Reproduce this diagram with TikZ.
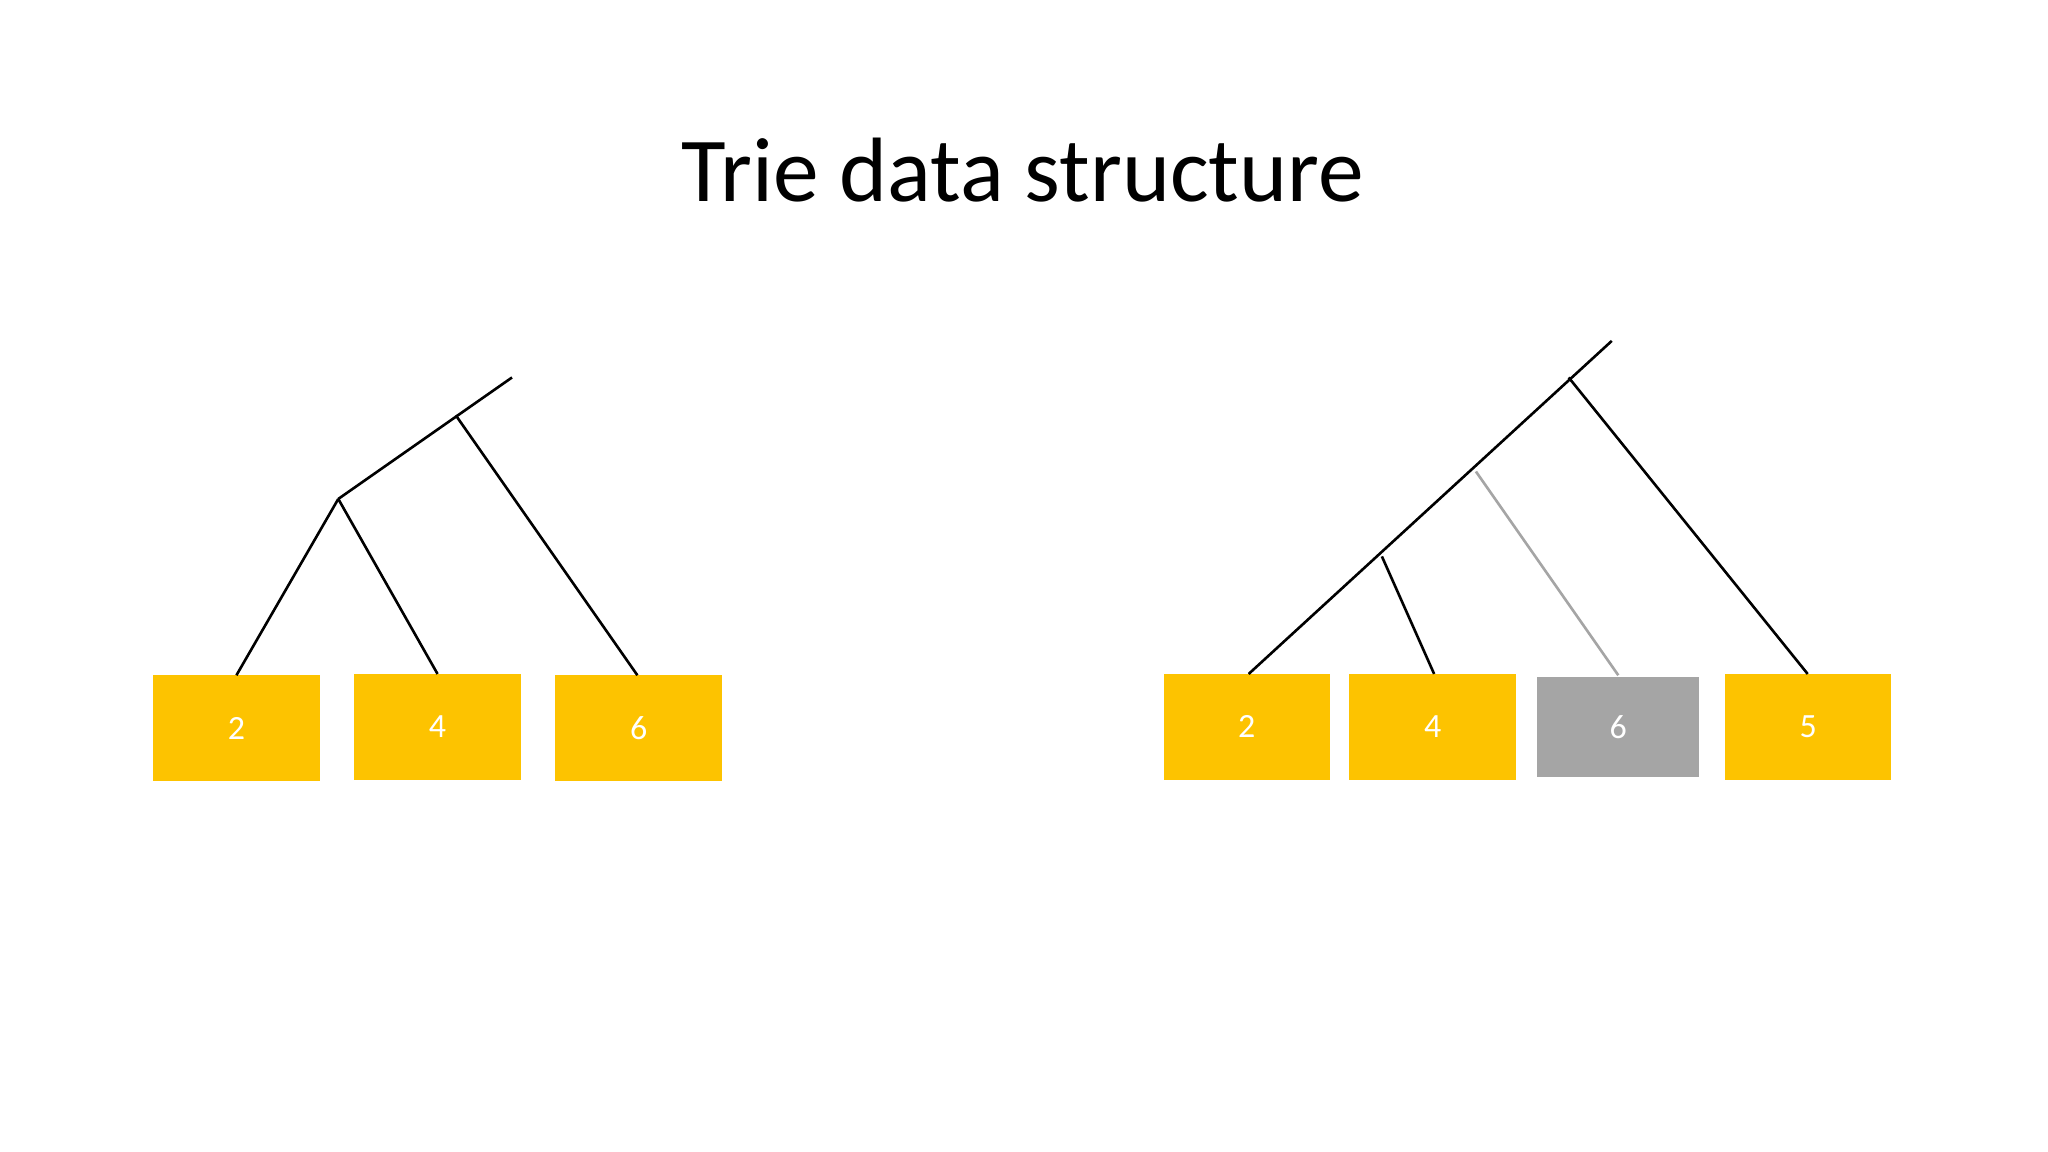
\documentclass[tikz,border=0pt]{standalone}
\usepackage{fontspec}
\setmainfont{Carlito}
\definecolor{gold}{HTML}{FDC300}
\definecolor{greybox}{HTML}{A5A5A5}
\begin{document}
\begin{tikzpicture}[x=0.5pt,y=-0.5pt,
  leaf/.style={fill=gold,draw=none,text=white,font=\fontsize{13}{15}\selectfont,inner sep=0pt},
  greyleaf/.style={leaf,fill=greybox},
  edge/.style={line width=1pt,black},
  greyedge/.style={line width=1pt,greybox}]
\useasboundingbox[fill=white] (0,0) rectangle (1568,882);
\node[font=\fontsize{35}{40}\selectfont] (title) at (783,130) {Trie data structure};
% left boxes
\node[leaf,minimum width=64pt,minimum height=40.5pt] (l2) at (181,557.5) {2};
\node[leaf,minimum width=64pt,minimum height=40.5pt] (l4) at (335,556.5) {4};
\node[leaf,minimum width=64pt,minimum height=40.5pt] (l6) at (489,557.5) {6};
% right boxes
\node[leaf,minimum width=63.5pt,minimum height=40.5pt] (r2) at (954.5,556.5) {2};
\node[leaf,minimum width=64pt,minimum height=40.5pt] (r4) at (1097,556.5) {4};
\node[greyleaf,minimum width=62pt,minimum height=38.5pt] (r6) at (1239,556.5) {6};
\node[leaf,minimum width=63.5pt,minimum height=40.5pt] (r5) at (1384.5,556.5) {5};
% left tree
\coordinate (ltop) at (392,289);
\coordinate (lj1) at (349,318);
\coordinate (lj2) at (259,382);
\draw[edge] (ltop) -- (lj2);
\draw[edge] (lj1) -- (488,517);
\draw[edge] (lj2) -- (181,517);
\draw[edge] (lj2) -- (335,516);
% right tree
\coordinate (rtop) at (1234,261);
\coordinate (rj1) at (1201,289);
\coordinate (rj2) at (1130,361);
\coordinate (rj3) at (1058,426);
\draw[edge] (rtop) -- (956,516);
\draw[edge] (rj1) -- (1384,516);
\draw[edge] (rj3) -- (1098,516);
\draw[greyedge] (rj2) -- (1239,517);
\end{tikzpicture}
\end{document}
